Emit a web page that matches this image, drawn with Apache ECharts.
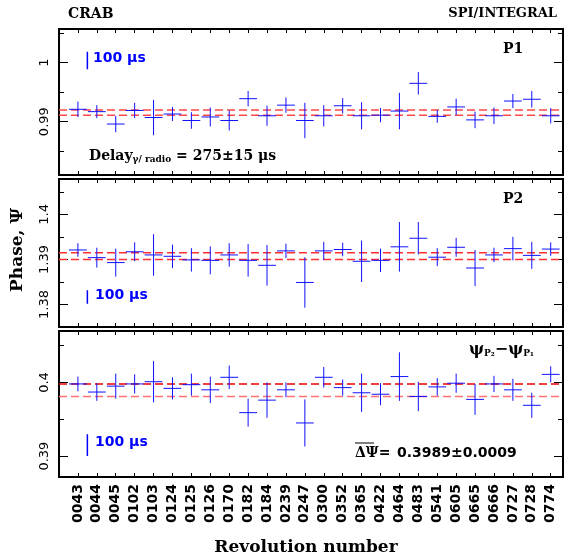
<!DOCTYPE html>
<html>
<head>
<meta charset="utf-8">
<script src="https://cdn.jsdelivr.net/npm/echarts@6/dist/echarts.min.js"></script>
<style>
  html, body { margin: 0; padding: 0; background: #fff; }
  #chart { width: 565px; height: 556px; }
</style>
</head>
<body>
<div id="chart"></div>
<script>
// revolution numbers (x categories)
const revs = ['0043', '0044', '0045', '0102', '0103', '0124', '0125', '0126', '0170', '0182',
  '0184', '0239', '0247', '0300', '0352', '0365', '0422', '0464', '0483', '0541',
  '0605', '0665', '0666', '0727', '0728', '0774']

// P1 phase and error
const p1Phase = [0.9921, 0.9917, 0.9896, 0.9919, 0.9907, 0.9913, 0.9902, 0.9908, 0.9902, 0.9939,
  0.9910, 0.9928, 0.9902, 0.9910, 0.9927, 0.9910, 0.9911, 0.9918, 0.9965, 0.9909,
  0.9925, 0.9903, 0.9910, 0.9935, 0.9938, 0.9910]
const p1Err = [0.0013, 0.0011, 0.0014, 0.0013, 0.0030, 0.0012, 0.0014, 0.0016, 0.0017, 0.0013,
  0.0017, 0.0013, 0.0030, 0.0018, 0.0013, 0.0023, 0.0012, 0.0031, 0.0019, 0.0011,
  0.0014, 0.0014, 0.0014, 0.0012, 0.0014, 0.0013]

// P2 phase and error
const p2Phase = [1.3921, 1.3904, 1.3893, 1.3917, 1.3910, 1.3907, 1.3899, 1.3898, 1.3910, 1.3898,
  1.3887, 1.3919, 1.3849, 1.3919, 1.3922, 1.3896, 1.3898, 1.3928, 1.3947, 1.3905,
  1.3927, 1.3881, 1.3910, 1.3924, 1.3909, 1.3923]
const p2Err = [0.0015, 0.0022, 0.0031, 0.0021, 0.0046, 0.0026, 0.0026, 0.0031, 0.0026, 0.0036,
  0.0045, 0.0016, 0.0056, 0.0020, 0.0015, 0.0046, 0.0026, 0.0055, 0.0036, 0.0020,
  0.0021, 0.0040, 0.0016, 0.0026, 0.0030, 0.0015]

// psi_P2 - psi_P1 and error
const dPhase = [0.3998, 0.3987, 0.3995, 0.3998, 0.4001, 0.3992, 0.3997, 0.3990, 0.4007, 0.3959,
  0.3976, 0.3990, 0.3945, 0.4007, 0.3993, 0.3986, 0.3984, 0.4008, 0.3981, 0.3994,
  0.3999, 0.3977, 0.3998, 0.3990, 0.3969, 0.4011]
const dErr = [0.0010, 0.0012, 0.0017, 0.0013, 0.0028, 0.0015, 0.0015, 0.0018, 0.0016, 0.0019,
  0.0024, 0.0010, 0.0032, 0.0014, 0.0011, 0.0026, 0.0015, 0.0033, 0.0020, 0.0012,
  0.0013, 0.0021, 0.0011, 0.0015, 0.0017, 0.0011]

// mean levels (dashed lines)
const p1Lines = [0.9920, 0.9911]
const p2Lines = [1.3915, 1.3900]
const dLines = [0.3998, 0.3981]

// half width of a revolution bin
const xErr = 0.47

// 100 us scale bar (in phase units)
const barLen = 0.00297
const barX = 1.5
const barLow = [0.9989, 1.3802, 0.3900]

// axis ranges and ticks
const xMax = 26.65
const yMin = [0.98096, 1.37502, 0.38716]
const yMax = [1.00571, 1.40784, 0.40699]
const yMajor = [[0.99, 1.0], [1.38, 1.39, 1.40], [0.39, 0.40]]
const yMinor = [[0.985, 0.995, 1.005], [1.385, 1.395, 1.405], [0.395, 0.405]]

const xTicks = revs.map((r, i) => i + 1)

const chart = echarts.init(document.getElementById('chart'))

const tops = [29, 179, 331]
const heights = [146, 148, 146]

function crossItem(params, api) {
  const x = api.value(0)
  const y = api.value(1)
  const e = api.value(2)
  const l = api.coord([x - xErr, y])
  const r = api.coord([x + xErr, y])
  const t = api.coord([x, y + e])
  const b = api.coord([x, y - e])
  const st = { stroke: '#1010ff', lineWidth: 1 }
  return {
    type: 'group',
    children: [
      { type: 'line', shape: { x1: l[0], y1: l[1], x2: r[0], y2: r[1] }, style: st },
      { type: 'line', shape: { x1: t[0], y1: t[1], x2: b[0], y2: b[1] }, style: st }
    ]
  }
}

const grids = []
const xAxes = []
const yAxes = []
const series = []

const panels = [
  { phase: p1Phase, err: p1Err, lines: p1Lines, colors: ['#ff4848', '#ff4848'] },
  { phase: p2Phase, err: p2Err, lines: p2Lines, colors: ['#ff3030', '#ff3030'] },
  { phase: dPhase, err: dErr, lines: dLines, colors: ['#e80000', '#ff7070'] }
]

panels.forEach((p, gi) => {
  grids.push({
    left: 59, right: 2, top: tops[gi], height: heights[gi],
    show: true, borderColor: '#000', borderWidth: 2, backgroundColor: 'transparent'
  })
  // bottom + top x axes
  ;['bottom', 'top'].forEach((pos) => {
    const withLabels = gi === 2 && pos === 'bottom'
    xAxes.push({
      type: 'value', gridIndex: gi, position: pos, min: 0, max: xMax,
      axisLine: { show: false },
      splitLine: { show: false },
      axisTick: { show: true, inside: true, length: 4, customValues: xTicks, lineStyle: { color: '#000', width: 1 } },
      axisLabel: withLabels ? {
        show: true, rotate: 90, margin: 7, customValues: xTicks,
        fontFamily: 'DejaVu Sans', fontWeight: 'bold', fontSize: 14, color: '#000',
        formatter: (v) => revs[Math.round(v) - 1] || ''
      } : { show: false }
    })
  })
  // left/right major + minor y axes
  ;['left', 'right'].forEach((pos) => {
    yAxes.push({
      type: 'value', gridIndex: gi, position: pos, min: yMin[gi], max: yMax[gi],
      axisLine: { show: false },
      splitLine: { show: false },
      axisTick: { show: true, inside: true, length: 9, customValues: yMajor[gi], lineStyle: { color: '#000', width: 1 } },
      axisLabel: pos === 'left' ? {
        show: true, rotate: 90, margin: 8, customValues: yMajor[gi],
        fontFamily: 'DejaVu Sans', fontSize: 13, color: '#000',
        formatter: (v) => String(+v.toFixed(3))
      } : { show: false }
    })
    yAxes.push({
      type: 'value', gridIndex: gi, position: pos, min: yMin[gi], max: yMax[gi],
      axisLine: { show: false },
      splitLine: { show: false },
      axisTick: { show: true, inside: true, length: 5, customValues: yMinor[gi], lineStyle: { color: '#000', width: 1 } },
      axisLabel: { show: false }
    })
  })

  const xi = gi * 2
  const yi = gi * 4

  // dashed mean lines
  p.lines.forEach((v, k) => {
    series.push({
      type: 'line', xAxisIndex: xi, yAxisIndex: yi, symbol: 'none', silent: true,
      data: [[0, v], [xMax, v]],
      lineStyle: { color: p.colors[k], width: 1.5, type: [8, 4] },
      z: 2
    })
  })

  // crosses
  series.push({
    type: 'custom', xAxisIndex: xi, yAxisIndex: yi,
    renderItem: crossItem,
    encode: { x: 0, y: 1 },
    data: p.phase.map((v, i) => [i + 1, v, p.err[i]]),
    z: 3
  })

  // 100 us scale bar
  series.push({
    type: 'line', xAxisIndex: xi, yAxisIndex: yi, symbol: 'none', silent: true,
    data: [[barX, barLow[gi]], [barX, barLow[gi] + barLen]],
    lineStyle: { color: '#0000ff', width: 1.5 },
    z: 3
  })
})

const serif = 'DejaVu Serif'
const txt = (x, y, text, extra) => ({
  type: 'text', x: x, y: y,
  style: Object.assign({ text: text, fill: '#000', font: 'bold 14px "DejaVu Serif"', textVerticalAlign: 'middle' }, extra || {})
})

const usStyle = { fill: '#0000ff', font: 'bold 14px "DejaVu Sans"' }

const graphic = [
  txt(68, 14, 'CRAB'),
  txt(557, 14, 'SPI/INTEGRAL', { textAlign: 'right', font: 'bold 13px "DejaVu Serif"' }),
  txt(503, 49, 'P1', { font: 'bold 14px "DejaVu Serif"' }),
  txt(503, 199, 'P2', { font: 'bold 14px "DejaVu Serif"' }),
  txt(93, 58, '100 μs', usStyle),
  txt(95, 295, '100 μs', usStyle),
  txt(95, 442, '100 μs', usStyle),
  {
    type: 'text', x: 89, y: 156,
    style: {
      text: '{a|Delay}{s|γ/ radio}{a| = 275±15 μs}',
      textVerticalAlign: 'middle',
      rich: {
        a: { fontFamily: serif, fontWeight: 'bold', fontSize: 14, color: '#000' },
        s: { fontFamily: serif, fontWeight: 'bold', fontSize: 9, color: '#000', padding: [8, 0, 0, 0] }
      }
    }
  },
  {
    type: 'text', x: 469, y: 350,
    style: {
      text: '{a|ψ}{s|P₂}{a|−ψ}{s|P₁}',
      textVerticalAlign: 'middle',
      rich: {
        a: { fontFamily: serif, fontWeight: 'bold', fontSize: 16, color: '#000' },
        s: { fontFamily: serif, fontWeight: 'bold', fontSize: 9, color: '#000', padding: [8, 0, 0, 0] }
      }
    }
  },
  txt(355, 453, 'ΔΨ=', { font: 'bold 14px "DejaVu Serif"' }),
  txt(397, 453, '0.3989±0.0009', { font: 'bold 14px "DejaVu Sans"' }),
  { type: 'line', shape: { x1: 355, y1: 443, x2: 374, y2: 443 }, style: { stroke: '#000', lineWidth: 1 } },
  {
    type: 'text', x: 18, y: 250, rotation: Math.PI / 2,
    style: { text: 'Phase, Ψ', fill: '#000', font: 'bold 17px "DejaVu Serif"', textAlign: 'center', textVerticalAlign: 'middle' }
  },
  txt(306, 548, 'Revolution number', { textAlign: 'center', font: 'bold 17px "DejaVu Serif"' })
]

chart.setOption({
  animation: false,
  backgroundColor: '#fff',
  grid: grids,
  xAxis: xAxes,
  yAxis: yAxes,
  series: series,
  graphic: graphic
})
</script>
</body>
</html>
